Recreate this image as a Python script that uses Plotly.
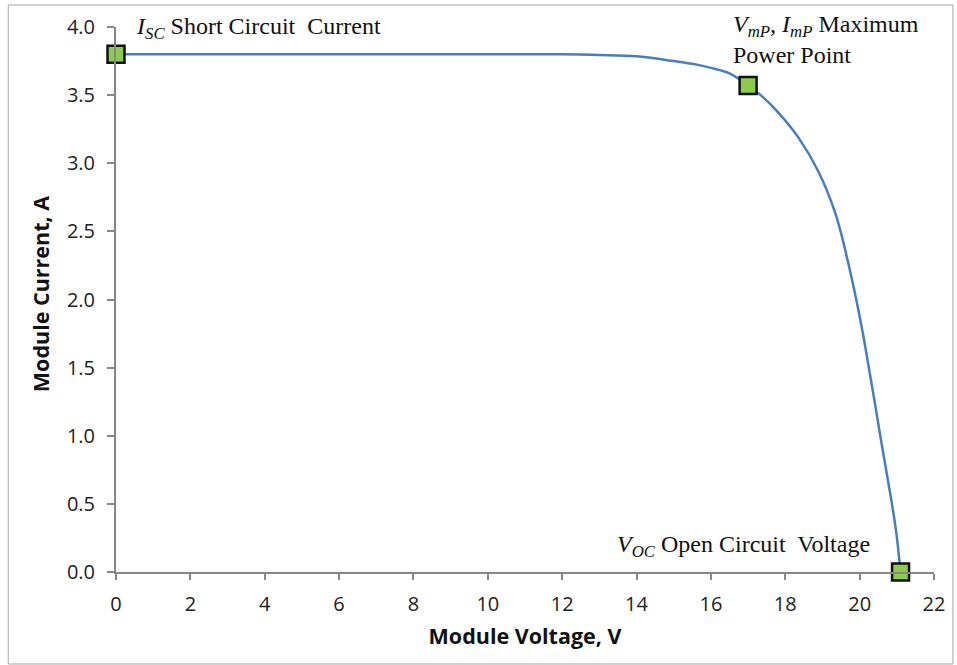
import plotly.graph_objects as go

# I-V curve of a PV module (voltage in V, current in A)
voltage = [0, 2, 4, 6, 8, 10, 12, 13, 14, 15, 15.5, 16, 16.5, 17.0, 17.4,
           17.82, 18.35, 18.89, 19.35, 19.7, 20.04, 20.31, 20.58, 20.82, 20.98, 21.1]
current = [3.80, 3.80, 3.80, 3.80, 3.80, 3.80, 3.80, 3.795, 3.785, 3.75, 3.73, 3.70, 3.66, 3.57, 3.485,
           3.37, 3.19, 2.94, 2.63, 2.26, 1.82, 1.40, 0.96, 0.58, 0.30, 0.0]

# Key operating points: short circuit, maximum power, open circuit
key_v = [0.0, 17.0, 21.1]
key_i = [3.80, 3.57, 0.0]

x_ticks = list(range(0, 23, 2))
y_ticks = [0.0, 0.5, 1.0, 1.5, 2.0, 2.5, 3.0, 3.5, 4.0]

W, H = 957, 665
L, R, T, B = 116, 21, 27, 93
PW, PH = W - L - R, H - T - B


def px_x(p):
    return (p - L) / PW


def px_y(p):
    return (H - B - p) / PH


fig = go.Figure()
fig.add_trace(go.Scatter(
    x=voltage, y=current, mode="lines",
    line=dict(color="#4a7ebb", width=2.5, shape="spline", smoothing=1.0),
    hoverinfo="skip", cliponaxis=False,
))
fig.add_trace(go.Scatter(
    x=key_v, y=key_i, mode="markers",
    marker=dict(symbol="square", size=17, color="#8dcb4c",
                line=dict(color="#111111", width=2.5)),
    cliponaxis=False,
))

axis_common = dict(
    showgrid=False, zeroline=False, showline=True,
    linecolor="#878787", linewidth=2,
    ticks="outside", tickcolor="#878787", tickwidth=2,
    tickfont=dict(family="Open Sans", size=20, color="#222222"),
)

fig.update_xaxes(
    range=[0, 22], tickvals=x_ticks, ticktext=[str(v) for v in x_ticks],
    ticklen=6, ticklabelstandoff=7,
    title=dict(text="<b>Module Voltage, V</b>", standoff=13,
               font=dict(family="Open Sans", size=21.5, color="#111111")),
    **axis_common,
)
fig.update_yaxes(
    range=[0, 4.0], tickvals=y_ticks, ticktext=[f"{v:.1f}" for v in y_ticks],
    ticklen=7, ticklabelstandoff=8,
    **axis_common,
)

# y-axis title placed as a rotated annotation
fig.add_annotation(
    x=px_x(40), y=px_y(294), xref="paper", yref="paper",
    xanchor="center", yanchor="middle", showarrow=False, textangle=-90,
    text="<b>Module Current, A</b>",
    font=dict(family="Open Sans", size=21.5, color="#111111"),
)

serif = dict(family="Liberation Serif", size=24, color="#111111")
fig.add_annotation(
    x=px_x(134), y=px_y(28), xref="paper", yref="paper",
    xanchor="left", yanchor="middle", showarrow=False, align="left",
    text="<i>I<sub>SC</sub></i> Short Circuit  Current", font=serif,
)
fig.add_annotation(
    x=px_x(733), y=px_y(9), xref="paper", yref="paper",
    xanchor="left", yanchor="top", showarrow=False, align="left",
    text="<i>V<sub>mP</sub>, I<sub>mP</sub></i> Maximum<br>Power Point", font=serif,
)
fig.add_annotation(
    x=px_x(874), y=px_y(546), xref="paper", yref="paper",
    xanchor="right", yanchor="middle", showarrow=False, align="right",
    text="<i>V<sub>OC</sub></i> Open Circuit  Voltage", font=serif,
)

# thin frame around the whole chart
fig.add_shape(type="rect", xref="paper", yref="paper",
              x0=px_x(8), x1=px_x(955), y0=px_y(664), y1=px_y(5),
              line=dict(color="#a6a6a6", width=1), layer="below")

fig.update_layout(
    width=W, height=H,
    margin=dict(l=L, r=R, t=T, b=B),
    paper_bgcolor="white", plot_bgcolor="white",
    showlegend=False,
)

fig.write_html("out.html")
